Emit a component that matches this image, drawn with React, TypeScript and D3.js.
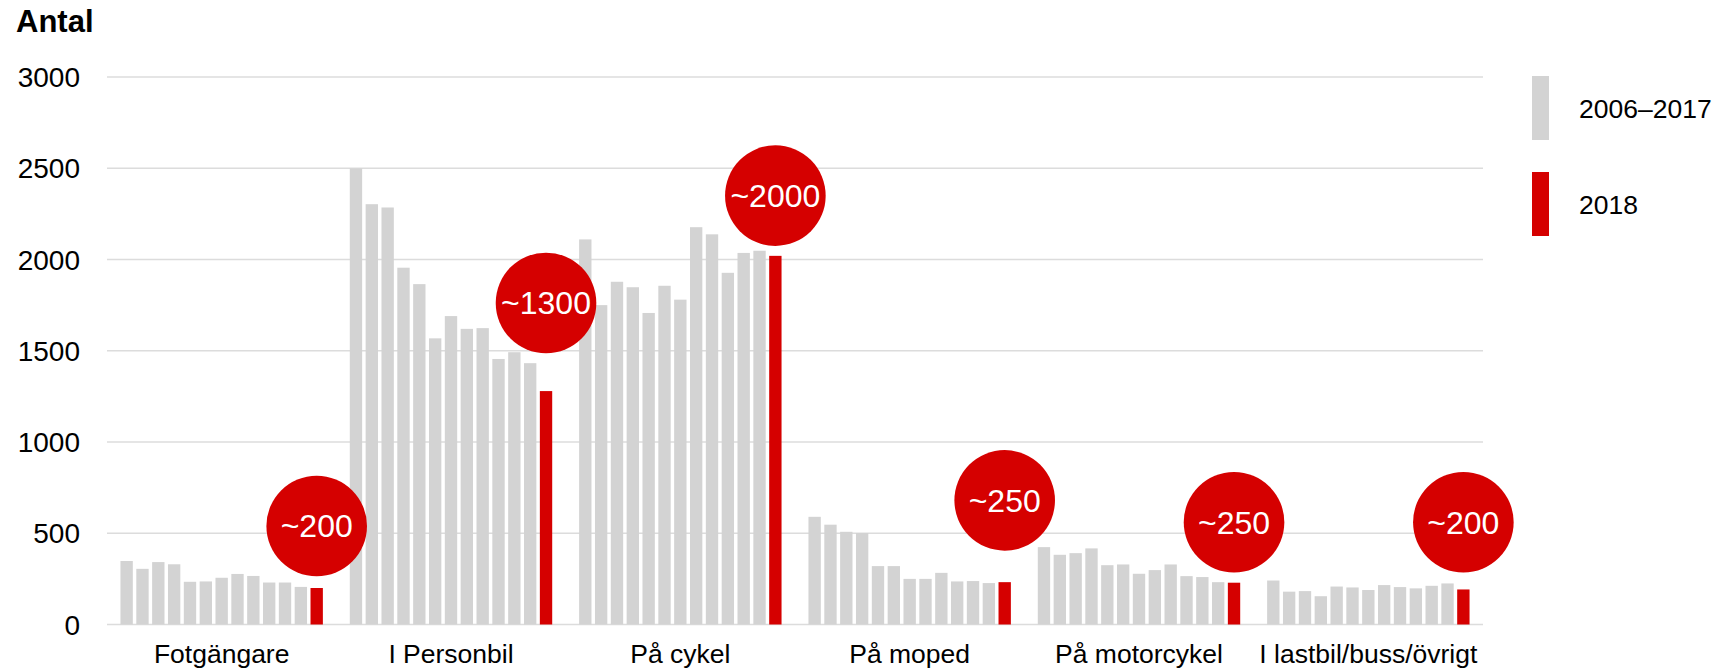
import React from 'react';
import * as d3 from 'd3';

const categories = ['Fotgängare', 'I Personbil', 'På cykel', 'På moped', 'På motorcykel', 'I lastbil/buss/övrigt'];
const years = ['2006', '2007', '2008', '2009', '2010', '2011', '2012', '2013', '2014', '2015', '2016', '2017', '2018'];

// antal per år 2006–2018
const fotgangare = [348, 305, 342, 330, 234, 236, 256, 277, 266, 230, 230, 206, 200];
const personbil = [2500, 2303, 2285, 1955, 1865, 1568, 1690, 1620, 1624, 1455, 1492, 1432, 1279];
const cykel = [2110, 1750, 1878, 1848, 1707, 1856, 1780, 2177, 2138, 1927, 2036, 2048, 2020];
const moped = [590, 547, 508, 501, 320, 320, 250, 250, 283, 236, 238, 227, 232];
const motorcykel = [424, 382, 391, 417, 325, 329, 278, 298, 329, 265, 260, 232, 229];
const lastbil = [241, 180, 183, 155, 208, 203, 189, 216, 205, 198, 212, 225, 192];

const series = [fotgangare, personbil, cykel, moped, motorcykel, lastbil];

// bubblor för 2018
const bubbleLabels = ['~200', '~1300', '~2000', '~250', '~250', '~200'];
const bubbleAt = [540, 1762, 2350, 680, 560, 560];

const yTicks = [0, 500, 1000, 1500, 2000, 2500, 3000];
const legendItems = ['2006–2017', '2018'];

const GREY = '#d3d3d3';
const RED = '#d50000';
const FONT = 'Liberation Sans, Arial, Helvetica, sans-serif';

export default function App() {
  const width = 1727;
  const height = 672;

  const x0 = d3.scaleBand().domain(categories).range([107, 1483]).padding(0);
  const x1 = d3
    .scaleBand()
    .domain(years)
    .range([0, x0.bandwidth()])
    .paddingInner(0.22)
    .paddingOuter(0.85);
  const y = d3.scaleLinear().domain([0, 3000]).range([624.5, 77]);

  return (
    <svg
      width={width}
      height={height}
      style={{ position: 'absolute', left: 0, top: 0, fontFamily: FONT }}
    >
      <text x={16} y={32} fontSize={31} fontWeight="bold" fill="#000">
        Antal
      </text>

      {/* rutnät och y-axel */}
      {yTicks.map((t) => (
        <g key={t}>
          <line x1={107} x2={1483} y1={y(t)} y2={y(t)} stroke="#dcdcdc" strokeWidth={1.5} />
          <text x={80} y={y(t)} dy="0.36em" textAnchor="end" fontSize={28} fill="#000">
            {t}
          </text>
        </g>
      ))}

      {/* staplar */}
      {categories.map((c, ci) => (
        <g key={c} transform={`translate(${x0(c)},0)`}>
          {series[ci].map((v, i) => (
            <rect
              key={years[i]}
              x={x1(years[i])}
              y={y(v)}
              width={x1.bandwidth()}
              height={y(0) - y(v)}
              fill={i === years.length - 1 ? RED : GREY}
            />
          ))}
          <text
            x={x0.bandwidth() / 2}
            y={663}
            textAnchor="middle"
            fontSize={26.5}
            fill="#000"
          >
            {c}
          </text>
        </g>
      ))}

      {/* bubblor */}
      {categories.map((c, ci) => {
        const cx = x0(c) + x1('2018') + x1.bandwidth() / 2;
        const cy = y(bubbleAt[ci]);
        return (
          <g key={'b' + c}>
            <circle cx={cx} cy={cy} r={50.3} fill={RED} />
            <text x={cx} y={cy} dy="0.36em" textAnchor="middle" fontSize={32} fill="#fff">
              {bubbleLabels[ci]}
            </text>
          </g>
        );
      })}

      {/* legend */}
      {legendItems.map((l, i) => (
        <g key={l} transform={`translate(1532,${76 + i * 96})`}>
          <rect x={0} y={0} width={17} height={64} fill={i === 0 ? GREY : RED} />
          <text x={47} y={32} dy="0.36em" fontSize={26.5} fill="#000">
            {l}
          </text>
        </g>
      ))}
    </svg>
  );
}
